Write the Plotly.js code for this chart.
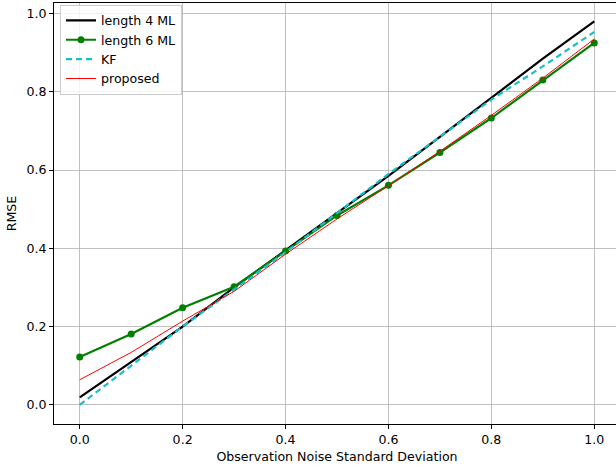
<!DOCTYPE html>
<html><head><meta charset="utf-8">
<script src="https://cdn.plot.ly/plotly-3.0.1.min.js"></script>
<style>html,body{margin:0;padding:0;overflow:hidden;background:#fff;width:616px;height:465px}</style>
</head><body><div id="chart" style="width:624px;height:465px"></div>
<script>
const noiseStd = [0.0, 0.1, 0.2, 0.3, 0.4, 0.5, 0.6, 0.7, 0.8, 0.9, 1.0];
const length4ML = [0.019, 0.11, 0.20, 0.30, 0.395, 0.49, 0.585, 0.685, 0.785, 0.885, 0.98];
const length6ML = [0.122, 0.181, 0.248, 0.302, 0.393, 0.484, 0.561, 0.645, 0.733, 0.830, 0.925];
const kf = [0.0, 0.1, 0.2, 0.295, 0.39, 0.49, 0.59, 0.685, 0.78, 0.865, 0.953];
const proposed = [0.064, 0.134, 0.214, 0.29, 0.385, 0.475, 0.56, 0.648, 0.74, 0.835, 0.935];
const xTicks = [0.0, 0.2, 0.4, 0.6, 0.8, 1.0];
const yTicks = [0.0, 0.2, 0.4, 0.6, 0.8, 1.0];

const font = {family: 'DejaVu Sans', size: 12.6, color: '#000'};
const traces = [
  {x: noiseStd, y: length4ML, name: 'length 4 ML', mode: 'lines', line: {color: '#000000', width: 2.2}},
  {x: noiseStd, y: length6ML, name: 'length 6 ML', mode: 'lines+markers', line: {color: '#008000', width: 2.2}, marker: {color: '#008000', size: 7}},
  {x: noiseStd, y: kf, name: 'KF', mode: 'lines', line: {color: '#17becf', width: 2.2, dash: '6px,4px'}},
  {x: noiseStd, y: proposed, name: 'proposed', mode: 'lines', line: {color: '#ff0000', width: 1}}
];
const axisCommon = {
  showline: true, linecolor: '#000', linewidth: 1, mirror: true,
  showgrid: true, gridcolor: '#b0b0b0', gridwidth: 0.8,
  ticks: 'outside', ticklen: 4, tickcolor: '#000', zeroline: false,
  tickfont: font
};
const layout = {
  width: 624, height: 465,
  margin: {l: 54, r: 4, t: 3, b: 41},
  paper_bgcolor: '#fff', plot_bgcolor: '#fff',
  font: font,
  showlegend: true,
  legend: {x: 0.0106, y: 0.996, xanchor: 'left', yanchor: 'top', bgcolor: 'rgba(255,255,255,0.8)',
           bordercolor: '#cccccc', borderwidth: 1, font: {family: 'DejaVu Sans', size: 12.6, color: '#000'},
           tracegroupgap: 0, itemwidth: 30},
  xaxis: Object.assign({}, axisCommon, {range: [-0.05, 1.05], tickvals: xTicks, ticktext: xTicks.map(v => v.toFixed(1)),
    title: {text: 'Observation Noise Standard Deviation', font: font, standoff: 6}}),
  yaxis: Object.assign({}, axisCommon, {range: [-0.049, 1.027], tickvals: yTicks, ticktext: yTicks.map(v => v.toFixed(1)),
    title: {text: 'RMSE', font: font, standoff: 7}})
};
Plotly.newPlot('chart', traces, layout, {displayModeBar: false, staticPlot: true});
</script></body></html>
